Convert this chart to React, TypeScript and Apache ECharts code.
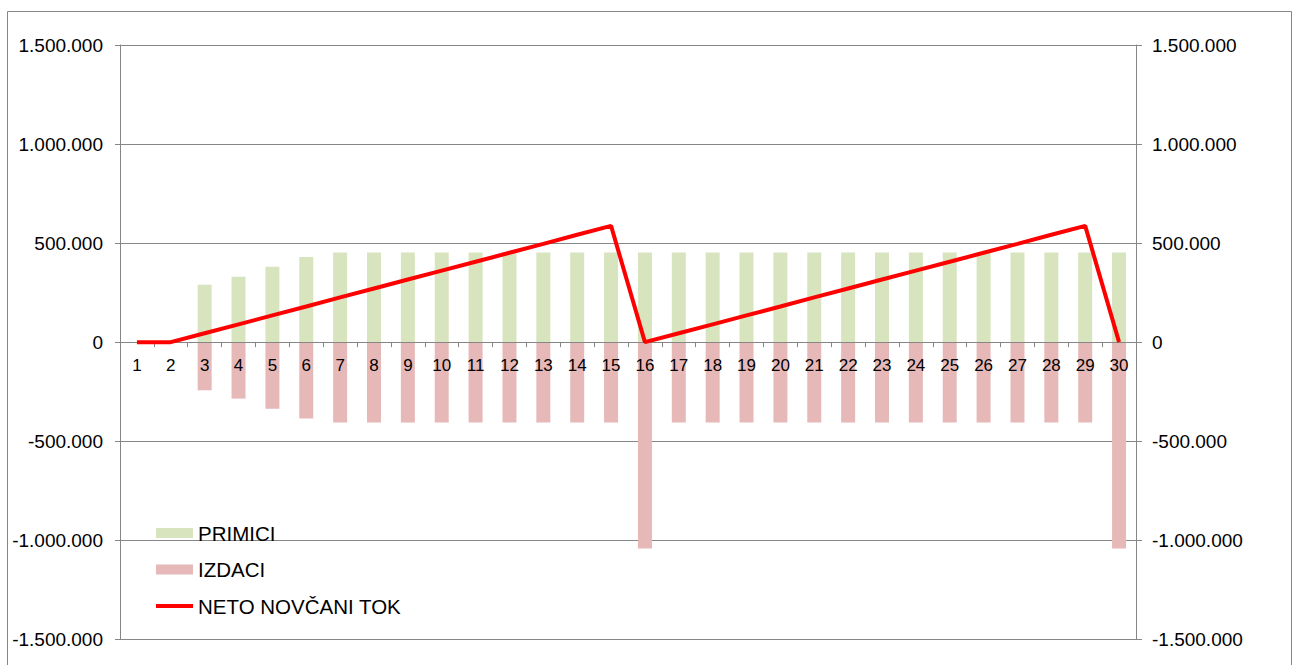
import React, { useEffect, useRef } from "react";
import * as echarts from "echarts";

const categories = ["1","2","3","4","5","6","7","8","9","10","11","12","13","14","15","16","17","18","19","20","21","22","23","24","25","26","27","28","29","30"];
const primici = [0,0,290000,330000,380000,430000,453000,453000,453000,453000,453000,453000,453000,453000,453000,453000,453000,453000,453000,453000,453000,453000,453000,453000,453000,453000,453000,453000,453000,453000];
const izdaci = [0,0,-243000,-285000,-336000,-386000,-406000,-406000,-406000,-406000,-406000,-406000,-406000,-406000,-406000,-1042000,-406000,-406000,-406000,-406000,-406000,-406000,-406000,-406000,-406000,-406000,-406000,-406000,-406000,-1042000];
const neto = [0,0,45000,90000,135000,180000,226000,271000,316000,361000,406000,451000,496000,542000,587000,0,45000,90000,135000,180000,226000,271000,316000,361000,406000,451000,496000,542000,587000,0];
const seriesNames = ["PRIMICI", "IZDACI", "NETO NOVČANI TOK"];

const GRAY = "#868686";
const FONT = "'Liberation Sans', Arial, sans-serif";
const GRID_TOP = 45;
const GRID_H = 594.3;

function fmt(v: number): string {
  const neg = v < 0;
  const s = String(Math.abs(Math.round(v)));
  let out = "";
  for (let i = 0; i < s.length; i++) {
    if (i > 0 && (s.length - i) % 3 === 0) out += ".";
    out += s[i];
  }
  return (neg ? "-" : "") + out;
}

export default function App() {
  const ref = useRef<HTMLDivElement>(null);
  useEffect(() => {
    if (!ref.current) return;
    const chart = echarts.init(ref.current, undefined, { renderer: "svg" });
    const yCommon = {
      type: "value",
      min: -1500000,
      max: 1500000,
      interval: 500000,
      axisLine: { show: true, lineStyle: { color: GRAY, width: 1 } },
      axisTick: { show: true, length: 5, lineStyle: { color: GRAY } },
      axisLabel: { color: "#000", fontSize: 19, fontFamily: FONT, formatter: (v: number) => fmt(v) },
    };
    // zero sits at the middle of the symmetric value range
    const zeroOffset = -GRID_H / 2;
    chart.setOption({
      animation: false,
      backgroundColor: "#fff",
      graphic: [
        {
          type: "rect",
          shape: { x: 7.5, y: 11.5, width: 1284, height: 700 },
          style: { fill: "none", stroke: GRAY, lineWidth: 1 },
          silent: true,
          z: -10,
        },
      ],
      grid: {
        left: 120,
        top: GRID_TOP,
        width: 1016,
        height: GRID_H,
        containLabel: false,
        outerBoundsMode: "none",
      },
      legend: {
        orient: "vertical",
        left: 156,
        top: 522,
        padding: 0,
        itemWidth: 37,
        itemHeight: 10,
        itemGap: 14.5,
        textStyle: { color: "#000", fontSize: 20.5, fontFamily: FONT, lineHeight: 22 },
        data: [
          { name: seriesNames[0], icon: "rect" },
          { name: seriesNames[1], icon: "rect" },
          { name: seriesNames[2], icon: "path://M0,0H37V4H0Z" },
        ],
      },
      xAxis: {
        type: "category",
        data: categories,
        boundaryGap: true,
        position: "bottom",
        offset: zeroOffset,
        axisLine: { show: true, onZero: false, lineStyle: { color: GRAY, width: 1 } },
        axisTick: { show: true, length: 5, inside: false, lineStyle: { color: GRAY } },
        axisLabel: { color: "#000", fontSize: 17, fontFamily: FONT, margin: 15, interval: 0 },
        splitLine: { show: false },
        z: 5,
      },
      yAxis: [
        {
          ...yCommon,
          position: "left",
          axisLabel: { ...yCommon.axisLabel, margin: 17 },
          splitLine: { show: true, lineStyle: { color: GRAY, width: 1 } },
        },
        {
          ...yCommon,
          position: "right",
          axisLabel: { ...yCommon.axisLabel, margin: 16 },
          axisTick: { show: true, length: 6, lineStyle: { color: GRAY } },
          splitLine: { show: false },
        },
      ],
      series: [
        {
          name: seriesNames[0],
          type: "bar",
          data: primici,
          barWidth: 14,
          barGap: "-100%",
          itemStyle: { color: "#D7E4BD" },
          yAxisIndex: 0,
        },
        {
          name: seriesNames[1],
          type: "bar",
          data: izdaci,
          barWidth: 14,
          barGap: "-100%",
          itemStyle: { color: "#E6B9B8" },
          yAxisIndex: 0,
        },
        {
          name: seriesNames[2],
          type: "line",
          data: neto,
          symbol: "none",
          showSymbol: false,
          lineStyle: { color: "#FF0000", width: 4 },
          itemStyle: { color: "#FF0000" },
          yAxisIndex: 0,
          z: 10,
        },
      ],
    });
    return () => chart.dispose();
  }, []);
  return (
    <div
      ref={ref}
      style={{ position: "absolute", left: 0, top: 0, width: 1294, height: 665 }}
    />
  );
}
